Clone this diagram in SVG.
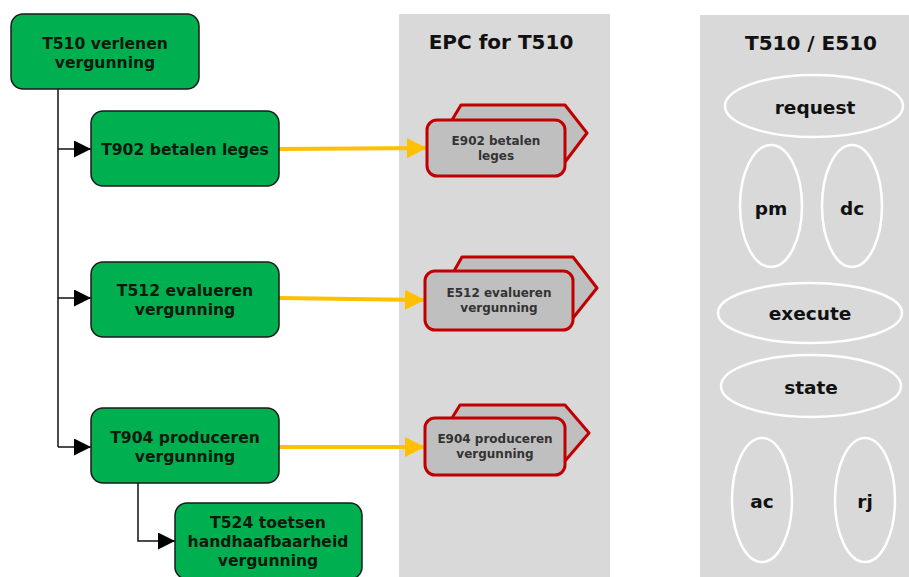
<svg xmlns="http://www.w3.org/2000/svg" width="909" height="577" viewBox="0 0 909 577">
<defs>
<style>
.task{fill:#00b050;stroke:#1a1a1a;stroke-width:1.5}
.tt{font-family:"DejaVu Sans",Verdana,sans-serif;font-weight:bold;font-size:15.6px;fill:#0d1a0d;text-anchor:middle}
.panel{fill:#d9d9d9}
.ptitle{font-family:"DejaVu Sans",Verdana,sans-serif;font-weight:bold;font-size:20px;fill:#111;text-anchor:middle}
.ev{fill:#bfbfbf;stroke:#c00000;stroke-width:3;stroke-linejoin:round}
.et{font-family:"DejaVu Sans",Verdana,sans-serif;font-weight:bold;font-size:12px;fill:#333;text-anchor:middle}
.ell{fill:none;stroke:#fff;stroke-width:2.5}
.lt{font-family:"DejaVu Sans",Verdana,sans-serif;font-weight:bold;font-size:18.5px;fill:#111;text-anchor:middle}
.tree{fill:none;stroke:#111;stroke-width:1.5}
.link{fill:none;stroke:#ffc000;stroke-width:4}
</style>
<marker id="ah" viewBox="0 0 10 10" refX="10" refY="5" markerWidth="17" markerHeight="17" markerUnits="userSpaceOnUse" orient="auto"><path d="M0,0 L10,5 L0,10 Z" fill="#000"/></marker>
<marker id="oh" viewBox="0 0 10 10" refX="10" refY="5" markerWidth="20" markerHeight="20" markerUnits="userSpaceOnUse" orient="auto"><path d="M0,0 L10,5 L0,10 Z" fill="#ffc000"/></marker>
</defs>
<rect width="909" height="577" fill="#fff"/>
<g id="panel-epc">
<rect class="panel" x="399" y="14" width="211" height="563"/>
<text class="ptitle" x="501" y="49">EPC for T510</text>
</g>
<g id="panel-t510">
<rect class="panel" x="700" y="15" width="209" height="562"/>
<text class="ptitle" x="811" y="50">T510 / E510</text>
</g>
<g id="connectors">
<path class="tree" d="M58,89 V447"/>
<path class="tree" d="M58,149 H91" marker-end="url(#ah)"/>
<path class="tree" d="M58,298 H91" marker-end="url(#ah)"/>
<path class="tree" d="M58,447 H91" marker-end="url(#ah)"/>
<path class="tree" d="M138,483 V541 H175" marker-end="url(#ah)"/>
<path class="link" d="M279,149 L427,148" marker-end="url(#oh)"/>
<path class="link" d="M279,298 L425,300" marker-end="url(#oh)"/>
<path class="link" d="M279,447 L425,447" marker-end="url(#oh)"/>
</g>
<g id="T510">
<rect class="task" x="11" y="14" width="188" height="75" rx="12"/>
<text class="tt" x="105" y="49">T510 verlenen</text>
<text class="tt" x="105" y="68">vergunning</text>
</g>
<g id="T902">
<rect class="task" x="91" y="111" width="188" height="75" rx="12"/>
<text class="tt" x="185" y="155">T902 betalen leges</text>
</g>
<g id="T512">
<rect class="task" x="91" y="262" width="188" height="75" rx="12"/>
<text class="tt" x="185" y="296">T512 evalueren</text>
<text class="tt" x="185" y="315">vergunning</text>
</g>
<g id="T904">
<rect class="task" x="91" y="408" width="188" height="75" rx="12"/>
<text class="tt" x="185" y="443">T904 produceren</text>
<text class="tt" x="185" y="462">vergunning</text>
</g>
<g id="T524">
<rect class="task" x="175" y="503" width="187" height="76" rx="12"/>
<text class="tt" x="268" y="528">T524 toetsen</text>
<text class="tt" x="268" y="547">handhaafbaarheid</text>
<text class="tt" x="268" y="566">vergunning</text>
</g>
<g id="E902">
<path class="ev" d="M452,120 L461,105 L565,105 L587,133 L565,162 L452,162 Z"/>
<rect class="ev" x="427" y="120" width="138" height="56" rx="10"/>
<text class="et" x="496" y="145">E902 betalen</text>
<text class="et" x="496" y="160">leges</text>
</g>
<g id="E512">
<path class="ev" d="M454,271 L462,257 L573,257 L597,288 L573,318 L454,318 Z"/>
<rect class="ev" x="425" y="271" width="148" height="59" rx="10"/>
<text class="et" x="499" y="297">E512 evalueren</text>
<text class="et" x="499" y="312">vergunning</text>
</g>
<g id="E904">
<path class="ev" d="M452,418 L460,405 L565,405 L589,433 L565,461 L452,461 Z"/>
<rect class="ev" x="425" y="418" width="140" height="57" rx="10"/>
<text class="et" x="495" y="443">E904 produceren</text>
<text class="et" x="495" y="458">vergunning</text>
</g>
<g id="request"><ellipse class="ell" cx="814" cy="106" rx="89" ry="31"/><text class="lt" x="815" y="114">request</text></g>
<g id="pm"><ellipse class="ell" cx="771" cy="206" rx="31" ry="61"/><text class="lt" x="771" y="215">pm</text></g>
<g id="dc"><ellipse class="ell" cx="852" cy="206" rx="30" ry="61"/><text class="lt" x="852" y="215">dc</text></g>
<g id="execute"><ellipse class="ell" cx="810" cy="313" rx="92" ry="30"/><text class="lt" x="810" y="320">execute</text></g>
<g id="state"><ellipse class="ell" cx="811" cy="386" rx="90" ry="31"/><text class="lt" x="811" y="394">state</text></g>
<g id="ac"><ellipse class="ell" cx="762" cy="500" rx="30" ry="62"/><text class="lt" x="762" y="508">ac</text></g>
<g id="rj"><ellipse class="ell" cx="865" cy="500" rx="30" ry="62"/><text class="lt" x="865" y="508">rj</text></g>
</svg>
